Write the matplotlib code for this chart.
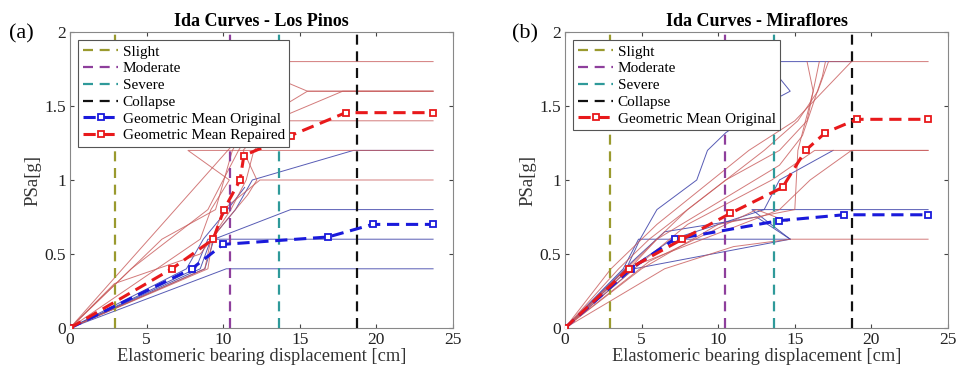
import matplotlib
matplotlib.use("Agg")
import matplotlib.pyplot as plt

plt.rcParams['font.family'] = ['Liberation Serif', 'DejaVu Serif']
plt.rcParams['mathtext.fontset'] = 'stix'

# ---------------- data ----------------
damage_names = ["Slight", "Moderate", "Severe", "Collapse"]
damage_colors = ["#9a9a2e", "#8e3f9c", "#2f9a9a", "#111111"]
limits_a = [2.95, 10.42, 13.64, 18.75]
limits_b = [2.95, 10.42, 13.64, 18.75]

# Panel (a) Los Pinos -- individual IDA curves (x = displacement cm, y = PSa g)
a_red_x = [
    [0, 10.3, 11.2, 13.9, 17.8, 23.7],
    [0, 4.0, 9.0, 10.0, 11.0, 13.9, 15.5, 23.7],
    [0, 6.0, 9.5, 10.6, 12.0, 13.9, 23.7],
    [0, 8.5, 9.2, 10.4, 7.7, 23.7],
    [0, 8.8, 9.2, 10.5, 11.5, 12.0, 13.9, 23.7],
    [0, 9.0, 9.3, 10.0, 12.4, 23.7],
    [0, 2.9, 8.5, 10.0, 11.6, 12.2, 11.3, 13.9, 15.5, 23.7],
]
a_red_y = [
    [0, 1.2, 1.3, 1.43, 1.6, 1.6],
    [0, 0.4, 0.8, 1.0, 1.2, 1.67, 1.6, 1.6],
    [0, 0.6, 0.8, 1.2, 1.45, 1.8, 1.8],
    [0, 0.6, 0.8, 1.0, 1.2, 1.2],
    [0, 0.4, 0.6, 0.8, 1.0, 1.2, 1.4, 1.4],
    [0, 0.4, 0.6, 0.8, 1.0, 1.0],
    [0, 0.3, 0.5, 0.7, 0.9, 1.0, 1.2, 1.5, 1.6, 1.6],
]
a_blue_x = [
    [0, 10.2, 23.7],
    [0, 8.2, 9.0, 23.7],
    [0, 8.8, 9.4, 14.4, 23.7],
    [0, 8.5, 9.2, 10.8, 11.9, 18.5, 23.7],
    [0, 7.6, 8.7, 9.9, 11.4],
]
a_blue_y = [
    [0, 0.4, 0.4],
    [0, 0.4, 0.6, 0.6],
    [0, 0.4, 0.6, 0.8, 0.8],
    [0, 0.4, 0.6, 0.8, 1.0, 1.2, 1.2],
    [0, 0.4, 0.6, 0.75, 0.95],
]
a_mean_orig_x = [0, 7.95, 10.0, 16.85, 19.75, 23.7]
a_mean_orig_y = [0, 0.40, 0.565, 0.615, 0.70, 0.70]
a_mean_rep_x = [0, 6.65, 9.35, 10.05, 11.1, 11.35, 14.4, 18.0, 23.7]
a_mean_rep_y = [0, 0.40, 0.60, 0.80, 1.00, 1.165, 1.30, 1.455, 1.455]

# Panel (b) Miraflores
b_red_x = [
    [0, 4.0, 8.0, 13.0, 15.2, 16.5, 17.2, 23.7],
    [0, 4.2, 6.0, 10.0, 14.0, 15.5, 16.8, 17.0],
    [0, 3.5, 5.5, 10.5, 14.0, 15.8, 16.6],
    [0, 4.5, 8.0, 13.5, 16.3, 23.7],
    [0, 5.0, 10.0, 15.0, 15.2, 16.2, 15.8],
    [0, 6.5, 11.0, 14.7, 23.7],
    [0, 4.0, 9.0, 14.0, 16.0, 18.7, 23.7],
    [0, 3.0, 6.0, 12.0, 15.0, 18.7],
    [0, 5.5, 12.5, 14.5],
]
b_red_y = [
    [0, 0.4, 0.8, 1.2, 1.4, 1.6, 1.8, 1.8],
    [0, 0.4, 0.6, 0.85, 1.1, 1.3, 1.7, 1.8],
    [0, 0.4, 0.6, 1.0, 1.2, 1.4, 1.8],
    [0, 0.4, 0.7, 1.0, 1.2, 1.2],
    [0, 0.4, 0.7, 0.8, 1.2, 1.6, 1.8],
    [0, 0.4, 0.55, 0.6, 0.6],
    [0, 0.4, 0.6, 0.8, 1.0, 1.2, 1.2],
    [0, 0.4, 0.7, 1.2, 1.4, 1.8],
    [0, 0.45, 0.8, 0.72],
]
b_blue_x = [
    [0, 4.0, 4.9, 6.0, 8.6, 9.3, 10.5, 13.6, 14.7, 13.6, 13.6, 18.7],
    [0, 3.8, 4.8, 14.7],
    [0, 4.5, 14.7, 12.2, 23.7],
    [0, 4.2, 7.0, 13.0, 14.0, 17.5],
    [0, 4.4, 6.5, 12.5, 14.7],
]
b_blue_y = [
    [0, 0.4, 0.6, 0.8, 1.0, 1.2, 1.32, 1.54, 1.6, 1.74, 1.8, 1.8],
    [0, 0.4, 0.6, 0.6],
    [0, 0.4, 0.6, 0.8, 0.8],
    [0, 0.4, 0.6, 0.8, 1.0, 1.2],
    [0, 0.45, 0.65, 0.75, 0.6],
]
b_mean_orig_x = [0, 4.3, 7.15, 13.95, 18.2, 23.7]
b_mean_orig_y = [0, 0.40, 0.60, 0.725, 0.765, 0.765]
b_mean_rep_x = [0, 4.15, 7.65, 10.8, 14.2, 15.7, 17.0, 19.05, 23.7]
b_mean_rep_y = [0, 0.40, 0.60, 0.775, 0.95, 1.20, 1.32, 1.41, 1.41]

thin_red = "#c85a5a"
thin_blue = "#3a3fa8"
mean_blue = "#1a1adb"
mean_red = "#e8191b"

fig = plt.figure(figsize=(9.57, 3.76), dpi=100)
ax_a = fig.add_axes([70 / 957, 48 / 376, 383 / 957, 296 / 376])
ax_b = fig.add_axes([565 / 957, 48 / 376, 383 / 957, 296 / 376])


def draw(ax, red_x, red_y, blue_x, blue_y, limits, mo_x, mo_y, mr_x, mr_y,
         title, tag, tag_x, rep_label, show_orig_in_legend):
    for xs, ys in zip(blue_x, blue_y):
        ax.plot(xs, ys, color=thin_blue, lw=0.7, alpha=0.85, zorder=2)
    for xs, ys in zip(red_x, red_y):
        ax.plot(xs, ys, color=thin_red, lw=0.7, alpha=0.8, zorder=2)
    handles = []
    for name, col, lim in zip(damage_names, damage_colors, limits):
        h, = ax.plot([lim, lim], [0, 2], color=col, lw=1.6,
                     dashes=(4.5, 3), label=name, zorder=3)
        handles.append(h)
    ho, = ax.plot(mo_x, mo_y, color=mean_blue, lw=2.2, dashes=(4, 2.2),
                  marker='s', ms=4.8, mfc='white', mec=mean_blue, mew=1.3,
                  label="Geometric Mean Original", zorder=4)
    hr, = ax.plot(mr_x, mr_y, color=mean_red, lw=2.2, dashes=(4, 2.2),
                  marker='s', ms=4.8, mfc='white', mec=mean_red, mew=1.3,
                  label=rep_label, zorder=5)
    if show_orig_in_legend:
        handles += [ho, hr]
    else:
        handles += [hr]
    ax.set_xlim(0, 25)
    ax.set_ylim(0, 2)
    ax.set_xticks([0, 5, 10, 15, 20, 25])
    ax.set_yticks([0, 0.5, 1, 1.5, 2])
    ax.set_yticklabels(["0", "0.5", "1", "1.5", "2"])
    ax.tick_params(direction='in', top=True, right=True, length=3,
                   labelsize=12.5, colors='#444444', labelcolor='#222222', pad=3)
    for s in ax.spines.values():
        s.set_color('#888888')
        s.set_linewidth(0.8)
    ax.set_xlabel("Elastomeric bearing displacement [cm]", fontsize=13.2,
                  color='#333333', labelpad=0)
    ax.set_ylabel("PSa[g]", fontsize=13.5, color='#333333', labelpad=2)
    ax.set_title(title, fontsize=13, fontweight='bold', pad=4)
    leg = ax.legend(handles=handles, loc='upper left', fontsize=11,
                    frameon=True, fancybox=False, framealpha=1,
                    edgecolor='#555555', borderaxespad=0.55, borderpad=0.3,
                    labelspacing=0.2, handlelength=2.3, handletextpad=0.3)
    leg.get_frame().set_linewidth(0.8)
    leg.set_zorder(10)
    fig.text(tag_x / 957, 1 - 34 / 376, tag, fontsize=16,
             ha='left', va='center')


draw(ax_a, a_red_x, a_red_y, a_blue_x, a_blue_y, limits_a,
     a_mean_orig_x, a_mean_orig_y, a_mean_rep_x, a_mean_rep_y,
     "Ida Curves - Los Pinos", "(a)", 9, "Geometric Mean Repaired", True)
draw(ax_b, b_red_x, b_red_y, b_blue_x, b_blue_y, limits_b,
     b_mean_orig_x, b_mean_orig_y, b_mean_rep_x, b_mean_rep_y,
     "Ida Curves - Miraflores", "(b)", 512, "Geometric Mean Original", False)

fig.savefig("out.png", dpi=100)
